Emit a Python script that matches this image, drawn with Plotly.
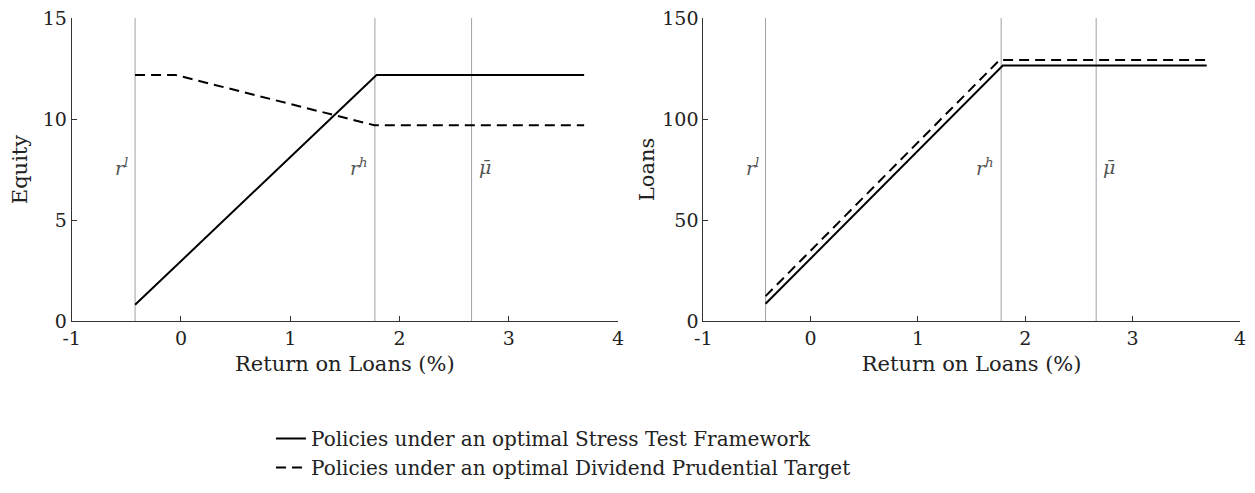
import plotly.graph_objects as go

# ---- data ----
r_l, r_h, mu_bar = -0.42, 1.775, 2.66

eq_stress_x = [-0.42, 1.79, 3.69]
eq_stress_y = [0.8, 12.18, 12.18]
eq_div_x = [-0.42, -0.05, 1.77, 3.69]
eq_div_y = [12.18, 12.18, 9.69, 9.69]

ln_stress_x = [-0.42, 1.79, 3.69]
ln_stress_y = [8.5, 126.5, 126.5]
ln_div_x = [-0.42, 1.76, 3.69]
ln_div_y = [12.3, 129.2, 129.2]

x_ticks = [-1, 0, 1, 2, 3, 4]
x_ticktext = ["-1", "0", "1", "2", "3", "4"]
eq_ticks = [0, 5, 10, 15]
ln_ticks = [0, 50, 100, 150]

names = ["Policies under an optimal Stress Test Framework",
         "Policies under an optimal Dividend Prudential Target"]

FONT = "DejaVu Serif"
DASH = "10px,6px"

W, H, OFF = 1247, 485, 8  # page shows figure offset by body margin


def px_x(p):
    return (p - OFF) / W


def px_y(p):
    return 1 - (p - OFF) / H


fig = go.Figure()
fig.add_trace(go.Scatter(x=eq_stress_x, y=eq_stress_y, mode="lines",
                         line=dict(color="black", width=2), name=names[0],
                         xaxis="x", yaxis="y"))
fig.add_trace(go.Scatter(x=eq_div_x, y=eq_div_y, mode="lines",
                         line=dict(color="black", width=2, dash=DASH), name=names[1],
                         xaxis="x", yaxis="y"))
fig.add_trace(go.Scatter(x=ln_stress_x, y=ln_stress_y, mode="lines",
                         line=dict(color="black", width=2), name=names[0],
                         showlegend=False, xaxis="x2", yaxis="y2"))
fig.add_trace(go.Scatter(x=ln_div_x, y=ln_div_y, mode="lines",
                         line=dict(color="black", width=2, dash=DASH), name=names[1],
                         showlegend=False, xaxis="x2", yaxis="y2"))

# vertical reference lines
for xr, yr in [("x", "y"), ("x2", "y2")]:
    for v in [r_l, r_h, mu_bar]:
        fig.add_shape(type="line", xref=xr, yref=yr + " domain", x0=v, x1=v, y0=0, y1=1,
                      line=dict(color="#a0a0a0", width=1), layer="below")

lab_font = dict(family=FONT, size=19, color="#555555")
for xr, yr, ypos in [("x", "y", 7.6), ("x2", "y2", 76)]:
    fig.add_annotation(x=r_l, y=ypos, xref=xr, yref=yr, text="<i>r<sup>l</sup></i>",
                       showarrow=False, xanchor="right", xshift=-5, font=lab_font)
    fig.add_annotation(x=r_h, y=ypos, xref=xr, yref=yr, text="<i>r<sup>h</sup></i>",
                       showarrow=False, xanchor="right", xshift=-5, font=lab_font)
    fig.add_annotation(x=mu_bar, y=ypos, xref=xr, yref=yr, text="<i>μ̄</i>",
                       showarrow=False, xanchor="left", xshift=5, font=lab_font)

tickfont = dict(family=FONT, size=19, color="#222222")
titlefont = dict(family=FONT, size=21, color="#222222")
common_x = dict(range=[-1, 4], tickvals=x_ticks, ticktext=x_ticktext, ticks="inside",
                ticklen=5, tickcolor="#333333", showline=True, linecolor="#333333",
                linewidth=1, showgrid=False, zeroline=False, tickfont=tickfont,
                automargin=False, ticklabeloverflow="allow",
                title=dict(text="Return on Loans (%)", font=titlefont, standoff=8))
common_y = dict(ticks="inside", ticklen=5, tickcolor="#333333", showline=True,
                linecolor="#333333", linewidth=1, showgrid=False, zeroline=False,
                tickfont=tickfont, automargin=False, ticklabeloverflow="allow")

ydom = [px_y(321), px_y(18)]
fig.update_layout(
    width=W, height=H,
    margin=dict(l=0, r=0, t=0, b=0),
    paper_bgcolor="white", plot_bgcolor="white",
    font=dict(family=FONT),
    xaxis=dict(domain=[px_x(71.7), px_x(618)], anchor="y", **common_x),
    yaxis=dict(domain=ydom, anchor="x", range=[0, 15], tickvals=eq_ticks,
               title=dict(text="Equity", font=titlefont, standoff=17), **common_y),
    xaxis2=dict(domain=[px_x(703.3), px_x(1240)], anchor="y2", **common_x),
    yaxis2=dict(domain=ydom, anchor="x2", range=[0, 150], tickvals=ln_ticks,
                title=dict(text="Loans", font=titlefont, standoff=1), **common_y),
    showlegend=True,
    legend=dict(x=px_x(271), y=px_y(419), xanchor="left", yanchor="top",
                font=dict(family=FONT, size=20, color="#222222"),
                bgcolor="rgba(0,0,0,0)", itemwidth=30, tracegroupgap=0),
)

fig.write_html("out.html")
